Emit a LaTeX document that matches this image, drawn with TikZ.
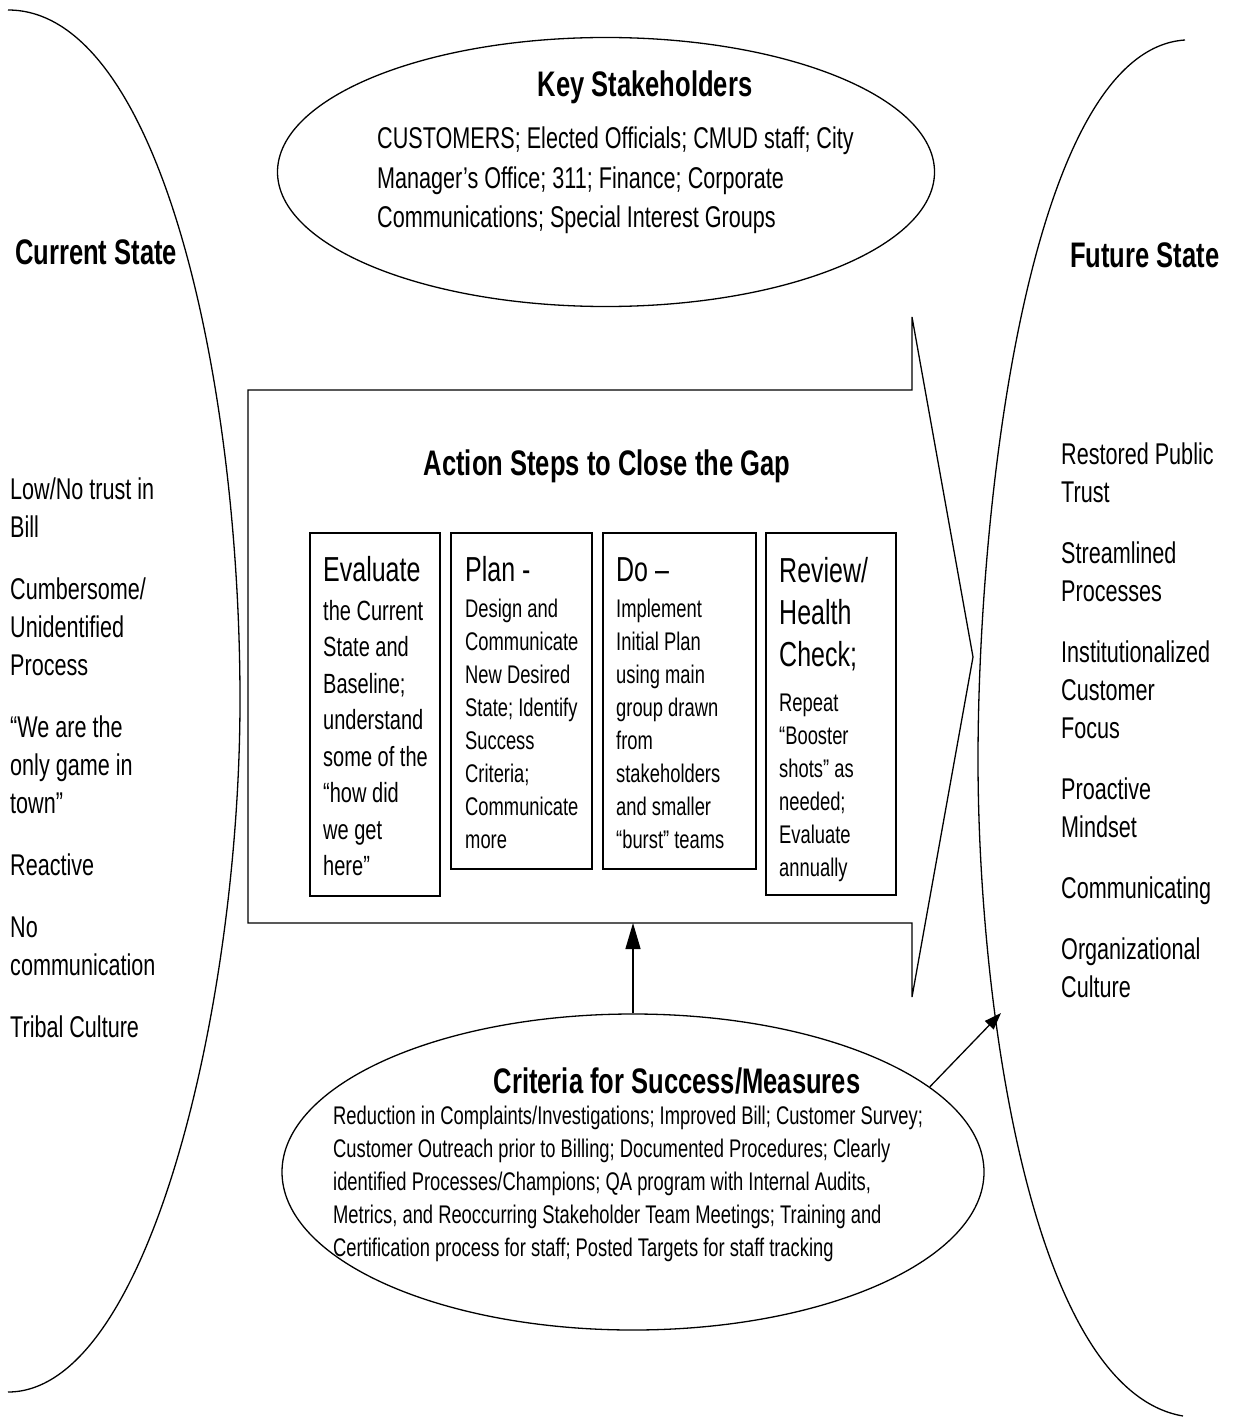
\documentclass[tikz,border=0pt]{standalone}
\usepackage{fontspec}
\newfontfamily\cf{Liberation Sans}[FakeStretch=0.72]
\usetikzlibrary{shapes.geometric,arrows.meta}
\begin{document}
\begin{tikzpicture}[x=1pt,y=-1pt,
  ln/.style={line width=1.3pt},
  ttl/.style={font=\cf\bfseries\fontsize{35.5}{40}\selectfont, inner sep=0pt, anchor=base},
  lst/.style={font=\cf\fontsize{30}{38}\selectfont, align=left, inner sep=0pt, anchor=base west},
  stk/.style={font=\cf\fontsize{30}{39.5}\selectfont, align=left, inner sep=0pt, anchor=base west},
  hd/.style={font=\cf\fontsize{34.7}{42}\selectfont, align=left, inner sep=0pt, anchor=base west},
  bodyA/.style={font=\cf\fontsize{27.8}{36.5}\selectfont, align=left, inner sep=0pt, anchor=base west},
  bodyB/.style={font=\cf\fontsize{25.5}{33}\selectfont, align=left, inner sep=0pt, anchor=base west},
  stepbox/.style={draw, ln, inner sep=0pt},
  oval/.style={draw, ln, ellipse, inner sep=0pt}
]
\useasboundingbox (0,0) rectangle (1233,1420);

% state curves
\draw[ln] (8,10) .. controls (160,10) and (240,380) .. (240,700) .. controls (240,1000) and (150,1392) .. (8,1392);
\draw[ln] (1185,40) .. controls (1030,50) and (978,500) .. (978,760) .. controls (978,1000) and (1030,1390) .. (1183,1416);
\coordinate (fsin) at (1001,1013);

\node[ttl, anchor=base west] (cur) at (15,265) {Current State};
\node[ttl, anchor=base west] (fut) at (1070,268) {Future State};

% (multi-line nodes are anchored at the baseline of their last line)
\node[lst] (curl) at (10,1037) {Low/No trust in\\Bill\\[24pt]Cumbersome/\\Unidentified\\Process\\[24pt]“We are the\\only game in\\town”\\[24pt]Reactive\\[24pt]No\\communication\\[24pt]Tribal Culture};

\node[lst] (futl) at (1061,997) {Restored Public\\Trust\\[23pt]Streamlined\\Processes\\[23pt]Institutionalized\\Customer\\Focus\\[23pt]Proactive\\Mindset\\[23pt]Communicating\\[23pt]Organizational\\Culture};

% key stakeholders
\node[oval, minimum width=657pt, minimum height=269pt] (key) at (606,172) {};
\node[ttl] (keyt) at (645,97) {Key Stakeholders};
\node[stk] (keyb) at (377,228) {CUSTOMERS; Elected Officials; CMUD staff; City\\Manager’s Office; 311; Finance; Corporate\\Communications; Special Interest Groups};

% big arrow
\draw[ln] (248,390) -- (912,390) -- (912,317) -- (973,657) -- (912,997) -- (912,923) -- (248,923) -- cycle;
\coordinate (gapbot) at (633,923);
\node[ttl] (act) at (607,475) {Action Steps to Close the Gap};

% step boxes
\node[stepbox, minimum width=130pt, minimum height=363pt] (s1) at (375,714.5) {};
\node[stepbox, minimum width=141pt, minimum height=336pt] (s2) at (521.5,701) {};
\node[stepbox, minimum width=153pt, minimum height=336pt] (s3) at (679.5,701) {};
\node[stepbox, minimum width=130pt, minimum height=362pt] (s4) at (831,714) {};

\node[hd] (h1) at (323,581) {Evaluate};
\node[bodyA] (b1) at (323,875.5) {the Current\\State  and\\Baseline;\\understand\\some of the\\“how did\\we get\\here”};
\node[hd] (h2) at (465,581) {Plan -};
\node[bodyB] (b2) at (465,848) {Design and\\Communicate\\New Desired\\State; Identify\\Success\\Criteria;\\Communicate\\more};
\node[hd] (h3) at (616,581) {Do –};
\node[bodyB] (b3) at (616,848) {Implement\\Initial Plan\\using main\\group drawn\\from\\stakeholders\\and smaller\\“burst” teams};
\node[hd] (h4) at (779,666) {Review/\\Health\\Check;};
\node[bodyB] (b4) at (779,876) {Repeat\\“Booster\\shots” as\\needed;\\Evaluate\\annually};

% criteria
\node[oval, minimum width=702pt, minimum height=316pt] (crit) at (633,1172) {};
\node[ttl] (critt) at (677,1093) {Criteria for Success/Measures};
\node[bodyB] (critb) at (333,1256) {Reduction in Complaints/Investigations; Improved Bill; Customer Survey;\\Customer Outreach prior to Billing; Documented Procedures; Clearly\\identified Processes/Champions; QA program with Internal Audits,\\Metrics, and Reoccurring Stakeholder Team Meetings; Training and\\Certification process for staff; Posted Targets for staff tracking};

% connectors
\draw[ln, -{Triangle[length=26pt,width=15pt]}] (crit.north) -- (gapbot);
\draw[ln, -{Triangle[length=17pt,width=12pt]}] (crit.16) -- (fsin);
\end{tikzpicture}
\end{document}
